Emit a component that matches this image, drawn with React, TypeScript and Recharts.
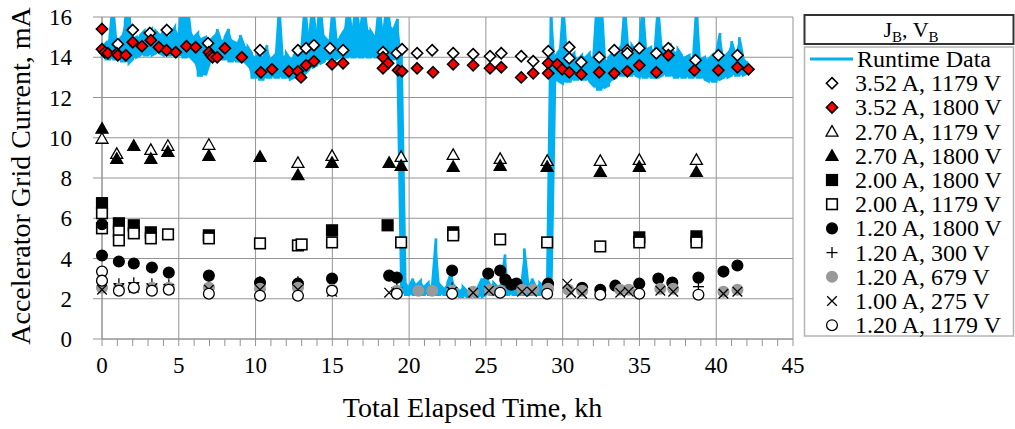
import React from "react";
import {
  ComposedChart,
  Area,
  Line,
  Scatter,
  XAxis,
  YAxis,
  CartesianGrid,
  Label,
} from "recharts";

// axis ticks
const xMajorTicks = [0, 5, 10, 15, 20, 25, 30, 35, 40, 45];
const xMinorTicks = [
  0, 1, 2, 3, 4, 5, 6, 7, 8, 9, 10, 11, 12, 13, 14, 15, 16, 17, 18, 19, 20, 21,
  22, 23, 24, 25, 26, 27, 28, 29, 30, 31, 32, 33, 34, 35, 36, 37, 38, 39, 40,
  41, 42, 43, 44, 45,
];
const yTicks = [0, 2, 4, 6, 8, 10, 12, 14, 16];

// runtime data, read as [kh, low mA, high mA] (spikes above 16 run off the top)
const runtimeBand: [number, number, number][] = [
  [0, 14.0, 14.5], [0.25, 13.9, 14.7], [0.5, 13.9, 15.0], [0.75, 13.9, 17],
  [1.0, 13.9, 14.8], [1.25, 13.8, 15.0], [1.5, 13.8, 15.8], [1.75, 13.7, 17],
  [2.0, 13.9, 14.9], [2.25, 14.0, 15.0], [2.5, 14.1, 15.1], [2.75, 14.1, 15.3],
  [3.0, 14.1, 15.2], [3.25, 14.1, 15.4], [3.5, 14.2, 15.3], [3.75, 14.2, 15.1],
  [4.0, 14.1, 15.4], [4.25, 14.1, 15.0], [4.5, 14.1, 15.2], [4.75, 14.1, 15.5],
  [5.0, 14.1, 15.1], [5.25, 14.0, 17], [5.5, 14.0, 17], [5.75, 14.0, 15.4],
  [6.0, 13.8, 15.0], [6.25, 13.1, 15.2], [6.5, 13.1, 14.9], [6.75, 13.1, 15.0],
  [7.0, 13.7, 14.8], [7.25, 13.9, 15.0], [7.5, 13.9, 15.4], [7.75, 13.9, 14.8],
  [8.0, 13.9, 15.0], [8.25, 13.8, 15.4], [8.5, 13.8, 14.8], [8.75, 13.8, 14.7],
  [9.0, 13.8, 15.1], [9.25, 13.8, 14.6], [9.5, 13.6, 14.5], [9.75, 13.0, 14.2],
  [10.0, 13.0, 14.0], [10.25, 12.9, 14.2], [10.5, 12.9, 14.0], [10.75, 13.0, 14.6],
  [11.0, 13.0, 13.9], [11.25, 13.0, 14.1], [11.5, 13.0, 17], [11.75, 13.0, 14.0],
  [12.0, 13.0, 14.2], [12.25, 12.9, 13.9], [12.5, 13.0, 14.1], [12.75, 13.0, 14.3],
  [13.0, 13.1, 14.5], [13.25, 13.2, 17], [13.5, 13.4, 15.0], [13.75, 13.5, 17],
  [14.0, 13.6, 15.2], [14.25, 13.7, 17], [14.5, 13.8, 15.0], [14.75, 13.9, 14.8],
  [15.0, 13.9, 17], [15.25, 13.9, 14.9], [15.5, 14.0, 15.0], [15.75, 14.0, 15.3],
  [16.0, 14.0, 17], [16.25, 14.0, 15.3], [16.5, 14.0, 17], [16.75, 14.0, 15.4],
  [17.0, 14.0, 17], [17.25, 14.0, 15.4], [17.5, 14.0, 15.3], [17.75, 14.0, 15.0],
  [18.0, 14.0, 17], [18.25, 14.0, 15.2], [18.5, 14.0, 17], [18.75, 13.9, 15.6],
  [19.0, 13.9, 15.4], [19.25, 13.8, 15.9], [19.5, 2.3, 14.2], [19.75, 2.2, 2.9],
  [20.0, 2.2, 2.6], [20.25, 2.2, 3.0], [20.5, 2.2, 2.7], [20.75, 2.2, 2.9],
  [21.0, 2.2, 2.6], [21.25, 2.2, 2.8], [21.5, 2.2, 2.6], [21.75, 2.2, 5.0],
  [22.0, 2.2, 2.7], [22.25, 2.2, 2.5], [22.5, 2.2, 2.8], [22.75, 2.1, 3.3],
  [23.0, 2.1, 2.6], [23.25, 2.1, 2.4], [23.5, 2.1, 2.6], [23.75, 2.1, 2.4],
  [24.0, 2.1, 2.5], [24.25, 2.1, 2.4], [24.5, 2.1, 2.6], [24.75, 2.1, 3.0],
  [25.0, 2.2, 3.1], [25.25, 2.2, 2.7], [25.5, 2.2, 2.8], [25.75, 2.2, 2.6],
  [26.0, 2.2, 2.8], [26.25, 2.2, 4.2], [26.5, 2.2, 2.7], [26.75, 2.2, 2.9],
  [27.0, 2.2, 2.6], [27.25, 2.2, 2.8], [27.5, 2.2, 4.5], [27.75, 2.2, 2.7],
  [28.0, 2.2, 3.0], [28.25, 2.2, 2.6], [28.5, 2.2, 2.8], [28.75, 2.2, 2.6],
  [29.0, 2.2, 2.9], [29.25, 2.2, 17], [29.5, 12.8, 14.0], [29.75, 12.8, 14.3],
  [30.0, 12.7, 17], [30.25, 12.8, 14.1], [30.5, 12.8, 14.0], [30.75, 12.9, 14.2],
  [31.0, 12.9, 13.9], [31.25, 12.9, 14.1], [31.5, 12.9, 14.0], [31.75, 12.8, 14.2],
  [32.0, 12.6, 13.9], [32.25, 12.4, 17], [32.5, 12.4, 17], [32.75, 12.5, 13.8],
  [33.0, 12.6, 14.0], [33.25, 12.9, 14.2], [33.5, 13.0, 14.3], [33.75, 13.1, 14.5],
  [34.0, 13.1, 17], [34.25, 13.1, 14.4], [34.5, 13.1, 14.6], [34.75, 13.1, 14.3],
  [35.0, 13.0, 14.5], [35.25, 13.0, 17], [35.5, 13.0, 14.4], [35.75, 13.0, 14.5],
  [36.0, 13.0, 14.3], [36.25, 13.0, 17], [36.5, 13.1, 14.5], [36.75, 13.1, 14.3],
  [37.0, 13.1, 14.7], [37.25, 13.0, 14.2], [37.5, 13.0, 14.4], [37.75, 13.0, 14.1],
  [38.0, 13.0, 14.0], [38.25, 13.0, 14.1], [38.5, 13.0, 13.9], [38.75, 13.0, 17],
  [39.0, 13.0, 13.9], [39.25, 12.9, 14.0], [39.5, 12.8, 13.9], [39.75, 12.8, 14.1],
  [40.0, 12.8, 14.2], [40.25, 12.9, 15.2], [40.5, 13.0, 14.0], [40.75, 13.0, 14.2],
  [41.0, 13.1, 14.8], [41.25, 13.1, 14.1], [41.5, 13.1, 15.0], [41.75, 13.1, 14.0],
  [42.0, 13.2, 13.8],
];

// measured points, [kh, mA]
const jb352v1179: [number, number][] = [
  [1.03, 14.65], [2.0, 15.35], [3.12, 15.2], [4.22, 15.35], [6.9, 14.7],
  [10.29, 14.35], [12.76, 14.35], [13.29, 14.45], [13.8, 14.6], [14.85, 14.45],
  [15.7, 14.35], [18.3, 14.25], [19.2, 14.2], [19.54, 14.4], [20.52, 14.2],
  [21.5, 14.35], [22.87, 14.2], [24.17, 14.15], [25.27, 14.05], [26.0, 14.2],
  [27.3, 14.05], [28.08, 13.8], [29.06, 14.3], [30.43, 14.5], [30.43, 13.95],
  [31.21, 13.75], [32.38, 14.0], [33.36, 14.35], [34.21, 14.35], [34.21, 14.2],
  [34.99, 14.45], [36.1, 14.2], [36.88, 14.45], [38.65, 13.85], [40.14, 14.1],
  [41.38, 14.1],
];
const jb352v1800: [number, number][] = [
  [0, 15.4], [0, 14.4], [0.18, 14.25], [0.38, 14.2], [0.96, 14.2], [1.03, 14.1],
  [1.55, 14.1], [2.0, 14.75], [2.6, 14.55], [3.18, 14.85], [3.7, 14.5],
  [4.2, 14.35], [4.8, 14.25], [5.5, 14.55], [6.1, 14.5], [6.96, 14.25],
  [7.1, 14.1], [7.2, 14.0], [7.5, 14.0], [8.0, 14.45], [9.1, 14.0],
  [10.35, 13.25], [11.07, 13.4], [12.17, 13.3], [12.76, 13.3], [12.96, 13.0],
  [13.29, 13.6], [13.8, 13.8], [14.98, 13.65], [15.7, 13.7], [18.3, 14.0],
  [18.63, 13.7], [18.3, 13.45], [19.28, 13.35], [19.54, 13.3], [20.52, 13.45],
  [21.56, 13.25], [22.87, 13.65], [24.17, 13.6], [25.27, 13.45], [26.0, 13.5],
  [27.3, 13.0], [28.08, 13.2], [29.06, 13.7], [29.06, 13.2], [29.65, 13.65],
  [29.97, 13.4], [30.43, 13.25], [31.21, 13.15], [32.38, 13.25], [33.36, 13.2],
  [34.21, 13.3], [34.99, 13.6], [36.1, 13.25], [36.88, 14.1], [38.58, 13.35],
  [40.14, 13.35], [41.38, 13.5], [42.1, 13.4],
];
const jb270v1179: [number, number][] = [
  [0, 9.95], [0.96, 9.2], [3.18, 9.4], [4.29, 9.6], [6.96, 9.65], [12.76, 8.75],
  [14.98, 9.1], [19.48, 9.05], [22.87, 9.15], [25.93, 8.95], [28.99, 8.85],
  [32.45, 8.85], [34.99, 8.9], [38.71, 8.9],
];
const jb270v1800: [number, number][] = [
  [0, 10.45], [0.96, 8.95], [2.07, 9.6], [3.18, 8.95], [4.29, 9.3], [6.96, 9.1],
  [10.29, 9.05], [12.76, 8.15], [14.98, 8.75], [18.7, 8.75], [19.48, 8.6],
  [22.87, 8.55], [25.93, 8.6], [28.99, 8.55], [32.45, 8.3], [34.99, 8.55],
  [38.71, 8.3],
];
const jb200v1800: [number, number][] = [
  [0, 6.75], [1.1, 5.75], [2.07, 5.65], [3.18, 5.3], [6.96, 5.15], [14.98, 5.4],
  [18.6, 5.65], [22.87, 5.3], [34.99, 5.05], [38.71, 5.1],
];
const jb200v1179: [number, number][] = [
  [0, 6.25], [0, 5.5], [1.1, 5.35], [1.1, 4.9], [2.07, 5.25], [3.18, 5.0],
  [4.3, 5.2], [6.96, 5.0], [10.29, 4.75], [12.76, 4.65], [13.0, 4.7],
  [14.98, 4.8], [19.48, 4.8], [22.87, 5.15], [25.93, 4.95], [28.99, 4.8],
  [32.45, 4.6], [34.99, 4.8], [38.71, 4.8],
];
const jb120v1800: [number, number][] = [
  [0, 5.7], [0, 4.15], [1.1, 3.85], [2.07, 3.75], [3.25, 3.55], [4.35, 3.3],
  [6.96, 3.15], [10.29, 2.8], [12.76, 2.75], [14.98, 3.0], [18.7, 3.15],
  [19.2, 3.05], [22.8, 3.4], [25.15, 3.25], [25.93, 3.4], [26.26, 2.95],
  [26.65, 2.7], [27.0, 2.75], [29.05, 2.75], [31.27, 2.55], [32.45, 2.45],
  [33.43, 2.65], [34.99, 2.75], [36.23, 3.0], [37.14, 2.8], [38.84, 3.05],
  [40.47, 3.35], [41.38, 3.65],
];
const jb120v300: [number, number][] = [
  [0, 2.8], [1.1, 2.75], [2.07, 2.8], [3.25, 2.75], [4.35, 2.7], [6.96, 2.6],
  [10.29, 2.85], [12.76, 2.85], [14.98, 2.5], [19.2, 2.55], [22.8, 2.55],
  [38.84, 2.6],
];
const jb120v679: [number, number][] = [
  [0, 2.55], [1.1, 2.5], [2.07, 2.55], [3.25, 2.55], [4.35, 2.55], [6.96, 2.55],
  [10.29, 2.5], [12.76, 2.55], [14.98, 2.45], [19.2, 2.4], [20.6, 2.4],
  [21.5, 2.4], [22.8, 2.4], [24.17, 2.35], [25.27, 2.45], [25.93, 2.4],
  [27.36, 2.45], [28.08, 2.45], [29.05, 2.5], [30.37, 2.45], [31.27, 2.4],
  [33.75, 2.45], [34.3, 2.45], [36.36, 2.5], [37.2, 2.5], [40.47, 2.35],
  [41.38, 2.45],
];
const jb100v275: [number, number][] = [
  [0, 2.45], [1.1, 2.5], [2.07, 2.55], [3.25, 2.5], [4.35, 2.5], [6.96, 2.45],
  [10.29, 2.45], [12.76, 2.45], [14.98, 2.35], [18.7, 2.3], [22.8, 2.35],
  [24.17, 2.3], [25.2, 2.4], [27.36, 2.35], [28.0, 2.35], [30.3, 2.75],
  [30.55, 2.3], [31.27, 2.25], [33.75, 2.3], [34.3, 2.35], [36.36, 2.4],
  [37.2, 2.35], [40.47, 2.25], [41.38, 2.35],
];
const jb120v1179: [number, number][] = [
  [0, 3.35], [0, 2.9], [1.1, 2.4], [2.07, 2.55], [3.25, 2.4], [4.35, 2.45],
  [6.96, 2.25], [10.29, 2.15], [12.76, 2.15], [14.98, 2.4], [19.2, 2.25],
  [22.8, 2.25], [25.93, 2.3], [28.99, 2.25], [32.45, 2.2], [34.99, 2.25],
  [38.84, 2.2],
];

const FONT = '"Liberation Serif", "Times New Roman", serif';
const BLUE = "#00B0F0";
const GRID = "#949494";

type ShapeFn = (cx: number, cy: number) => React.ReactElement;

const diamond = (fill: string): ShapeFn => (cx, cy) => (
  <path
    d={`M${cx},${cy - 5.6}L${cx + 5.6},${cy}L${cx},${cy + 5.6}L${cx - 5.6},${cy}Z`}
    fill={fill}
    stroke="#000"
    strokeWidth={1.6}
  />
);
const triangle = (fill: string): ShapeFn => (cx, cy) => (
  <path
    d={`M${cx},${cy - 6}L${cx + 6},${cy + 4.5}L${cx - 6},${cy + 4.5}Z`}
    fill={fill}
    stroke="#000"
    strokeWidth={1.3}
  />
);
const square = (fill: string): ShapeFn => (cx, cy) => (
  <rect
    x={cx - 5.3}
    y={cy - 5.3}
    width={10.6}
    height={10.6}
    fill={fill}
    stroke="#000"
    strokeWidth={1.6}
  />
);
const circle = (fill: string, stroke: string): ShapeFn => (cx, cy) => (
  <circle cx={cx} cy={cy} r={5.4} fill={fill} stroke={stroke} strokeWidth={1.3} />
);
const plus: ShapeFn = (cx, cy) => (
  <g stroke="#000" strokeWidth={1.3}>
    <line x1={cx - 5.5} y1={cy} x2={cx + 5.5} y2={cy} />
    <line x1={cx} y1={cy - 5.5} x2={cx} y2={cy + 5.5} />
  </g>
);
const cross: ShapeFn = (cx, cy) => (
  <g stroke="#000" strokeWidth={1.3}>
    <line x1={cx - 4.8} y1={cy - 4.8} x2={cx + 4.8} y2={cy + 4.8} />
    <line x1={cx - 4.8} y1={cy + 4.8} x2={cx + 4.8} y2={cy - 4.8} />
  </g>
);

const series: { name: string; data: [number, number][]; shape: ShapeFn }[] = [
  { name: "3.52 A, 1179 V", data: jb352v1179, shape: diamond("#fff") },
  { name: "3.52 A, 1800 V", data: jb352v1800, shape: diamond("#ff0000") },
  { name: "2.70 A, 1179 V", data: jb270v1179, shape: triangle("#fff") },
  { name: "2.70 A, 1800 V", data: jb270v1800, shape: triangle("#000") },
  { name: "2.00 A, 1800 V", data: jb200v1800, shape: square("#000") },
  { name: "2.00 A, 1179 V", data: jb200v1179, shape: square("#fff") },
  { name: "1.20 A, 1800 V", data: jb120v1800, shape: circle("#000", "#000") },
  { name: "1.20 A, 300 V", data: jb120v300, shape: plus },
  { name: "1.20 A, 679 V", data: jb120v679, shape: circle("#999", "#999") },
  { name: "1.00 A, 275 V", data: jb100v275, shape: cross },
  { name: "1.20 A, 1179 V", data: jb120v1179, shape: circle("#fff", "#000") },
];

// filled envelope of the runtime trace
const runtimeRange = runtimeBand.map(([t, lo, hi]) => ({ x: t, range: [lo, hi] }));
// dense runtime trace: up and down strokes through each read envelope
const runtimePoints = runtimeBand.flatMap(([t, lo, hi], i) =>
  i % 2 === 0
    ? [{ x: t, y: lo }, { x: t, y: hi }]
    : [{ x: t, y: hi }, { x: t, y: lo }]
);

const XTick = (props: any) => {
  const { x, y, payload } = props;
  if (!xMajorTicks.includes(payload.value)) return <g />;
  return (
    <text x={x} y={y} dy="0.71em" textAnchor="middle" fontSize={23} fill="#000" fontFamily={FONT}>
      {payload.value}
    </text>
  );
};

const Legend = () => {
  const rowY = (i: number) => 59 + i * 24.2;
  return (
    <svg
      width={215}
      height={345}
      style={{ position: "absolute", left: 800, top: 0 }}
      fontFamily={FONT}
    >
      <rect x={4.5} y={15} width={209} height={29} fill="#fff" stroke="#333" strokeWidth={2} />
      <text x={111} y={37} textAnchor="middle" fontSize={22}>
        <tspan>J</tspan>
        <tspan fontSize={15} dy={5}>B</tspan>
        <tspan dy={-5}>, V</tspan>
        <tspan fontSize={15} dy={5}>B</tspan>
      </text>
      <rect x={4.5} y={47} width={209} height={289} fill="#fff" stroke="#b4b4b4" strokeWidth={1.5} />
      <line x1={10} y1={rowY(0)} x2={53} y2={rowY(0)} stroke={BLUE} strokeWidth={3} />
      <text x={57} y={rowY(0) + 8} fontSize={24}>Runtime Data</text>
      {series.map((s, i) => (
        <g key={s.name}>
          {s.shape(32, rowY(i + 1))}
          <text x={55} y={rowY(i + 1) + 8} fontSize={24}>
            {s.name}
          </text>
        </g>
      ))}
    </svg>
  );
};

export default function App() {
  return (
    <div
      style={{
        position: "absolute",
        left: 0,
        top: 0,
        width: 1015,
        height: 429,
        background: "#fff",
        fontFamily: FONT,
      }}
    >
      <ComposedChart width={1015} height={429} margin={{ top: 17, right: 222, bottom: 0, left: 0 }}>
        <CartesianGrid stroke={GRID} verticalValues={xMajorTicks} horizontalValues={yTicks} />
        <XAxis
          type="number"
          dataKey="x"
          domain={[0, 45]}
          ticks={xMinorTicks}
          interval={0}
          tick={<XTick />}
          tickSize={7}
          tickMargin={11}
          height={90}
          stroke={GRID}
        >
          <Label
            content={(p: any) => {
              const vb = p.viewBox;
              return (
                <text
                  x={vb.x + vb.width / 2 + 25}
                  y={vb.y + 78}
                  textAnchor="middle"
                  fontSize={28}
                  fontFamily={FONT}
                  fill="#000"
                >
                  Total Elapsed Time, kh
                </text>
              );
            }}
          />
        </XAxis>
        <YAxis
          type="number"
          dataKey="y"
          domain={[0, 16]}
          ticks={yTicks}
          interval={0}
          width={102}
          tickSize={9}
          tickMargin={21}
          stroke={GRID}
          tick={{ fill: "#000", fontSize: 23, fontFamily: FONT }}
        >
          <Label
            content={(p: any) => {
              const vb = p.viewBox;
              const cx = vb.x + 30;
              const cy = vb.y + vb.height / 2 - 2;
              return (
                <text
                  x={cx}
                  y={cy}
                  transform={`rotate(-90, ${cx}, ${cy})`}
                  textAnchor="middle"
                  fontSize={28}
                  fontFamily={FONT}
                  fill="#000"
                >
                  Accelerator Grid Current, mA
                </text>
              );
            }}
          />
        </YAxis>
        <YAxis yAxisId="runtime" type="number" dataKey="y" domain={[0, 16]} allowDataOverflow hide />
        <Area
          yAxisId="runtime"
          data={runtimeRange}
          dataKey="range"
          type="linear"
          fill={BLUE}
          fillOpacity={1}
          stroke="none"
          dot={false}
          activeDot={false}
          isAnimationActive={false}
        />
        <Line
          yAxisId="runtime"
          data={runtimePoints}
          dataKey="y"
          type="linear"
          stroke={BLUE}
          strokeWidth={2.6}
          dot={false}
          activeDot={false}
          isAnimationActive={false}
        />
        {series.map((s) => (
          <Scatter
            key={s.name}
            name={s.name}
            data={s.data.map(([x, y]) => ({ x, y }))}
            shape={(p: any) => s.shape(p.cx, p.cy)}
            isAnimationActive={false}
          />
        ))}
      </ComposedChart>
      <Legend />
    </div>
  );
}
